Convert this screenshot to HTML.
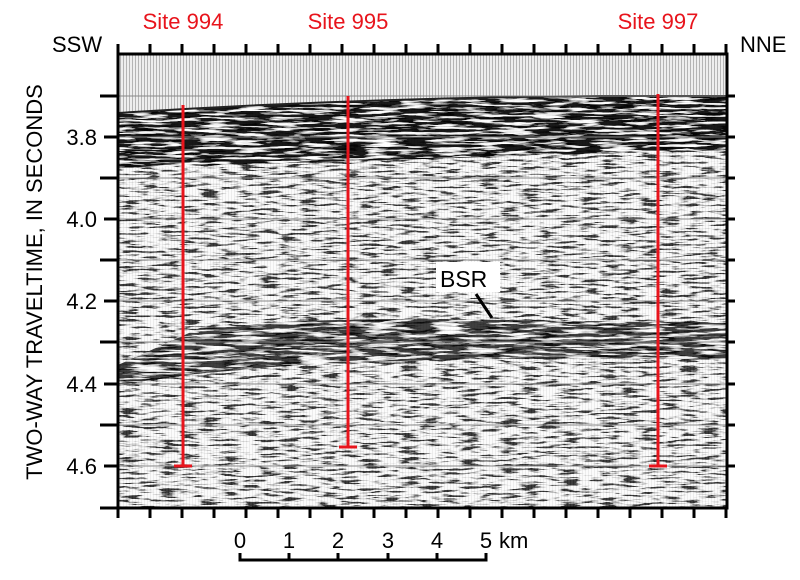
<!DOCTYPE html>
<html><head><meta charset="utf-8"><style>
html,body{margin:0;padding:0;background:#fff;}
svg{display:block;font-family:"Liberation Sans",Arial,sans-serif;}
</style></head><body>
<svg width="800" height="580" viewBox="0 0 800 580" xmlns="http://www.w3.org/2000/svg">
<defs>
<pattern id="vs" width="3" height="10" patternUnits="userSpaceOnUse">
<rect width="3" height="10" fill="#eeeeee"/><rect width="1" height="10" fill="#b4b4b4"/>
</pattern>
<filter id="nz" x="0" y="0" width="100%" height="100%">
<feTurbulence type="fractalNoise" baseFrequency="0.05 0.45" numOctaves="3" seed="4"/>
<feColorMatrix type="matrix" values="7 0 0 0 -2.6  7 0 0 0 -2.6  7 0 0 0 -2.6  0 0 0 0 1"/>
</filter>
<filter id="nz2" x="0" y="0" width="100%" height="100%">
<feTurbulence type="fractalNoise" baseFrequency="0.03 0.4" numOctaves="3" seed="9"/>
<feColorMatrix type="matrix" values="7 0 0 0 -3.5  7 0 0 0 -3.5  7 0 0 0 -3.5  0 0 0 0 1"/>
</filter>
<clipPath id="below"><path d="M118 113 Q350 98 600 96 L727 96 L727 508 L118 508 Z"/></clipPath>
<clipPath id="band1"><path d="M118 113 Q350 98 600 96 L727 96 L727 150 Q450 158 118 168 Z"/></clipPath>
<clipPath id="band2"><path d="M200 328 Q300 318 450 319 Q600 322 727 322 L727 360 Q500 355 300 365 Q200 372 118 385 L118 365 Z"/></clipPath>
</defs>
<rect x="118" y="54" width="609" height="454" fill="url(#vs)"/>
<g clip-path="url(#below)">
<rect x="118" y="54" width="609" height="454" filter="url(#nz)" opacity="0.75" style="mix-blend-mode:multiply"/>
</g>
<g clip-path="url(#band1)">
<rect x="118" y="54" width="609" height="454" filter="url(#nz2)" opacity="0.9" style="mix-blend-mode:multiply"/>
</g>
<g clip-path="url(#band2)">
<rect x="118" y="54" width="609" height="454" filter="url(#nz2)" opacity="0.75" style="mix-blend-mode:multiply"/>
</g>
<path d="M118 113 Q350 98 600 96 L727 96" stroke="#222" stroke-width="2" fill="none"/>
<g stroke="#888" stroke-width="1">
<line x1="118" y1="96" x2="727" y2="96"/><line x1="118" y1="137" x2="727" y2="137"/>
<line x1="118" y1="178" x2="727" y2="178"/><line x1="118" y1="219" x2="727" y2="219"/>
<line x1="118" y1="260" x2="727" y2="260"/><line x1="118" y1="301" x2="727" y2="301"/>
<line x1="118" y1="342" x2="727" y2="342"/><line x1="118" y1="384" x2="727" y2="384"/>
<line x1="118" y1="425" x2="727" y2="425"/><line x1="118" y1="466" x2="727" y2="466"/>
</g>
<rect x="118" y="54" width="609" height="454" fill="none" stroke="#000" stroke-width="3"/>
<g stroke="#000" stroke-width="3">
<line x1="118" y1="54" x2="118" y2="44"/><line x1="150" y1="54" x2="150" y2="44"/><line x1="182" y1="54" x2="182" y2="44"/><line x1="214" y1="54" x2="214" y2="44"/><line x1="246" y1="54" x2="246" y2="44"/><line x1="278" y1="54" x2="278" y2="44"/><line x1="310" y1="54" x2="310" y2="44"/><line x1="342" y1="54" x2="342" y2="44"/><line x1="374" y1="54" x2="374" y2="44"/><line x1="406" y1="54" x2="406" y2="44"/><line x1="438" y1="54" x2="438" y2="44"/><line x1="470" y1="54" x2="470" y2="44"/><line x1="502" y1="54" x2="502" y2="44"/><line x1="534" y1="54" x2="534" y2="44"/><line x1="566" y1="54" x2="566" y2="44"/><line x1="598" y1="54" x2="598" y2="44"/><line x1="630" y1="54" x2="630" y2="44"/><line x1="662" y1="54" x2="662" y2="44"/><line x1="694" y1="54" x2="694" y2="44"/><line x1="726" y1="54" x2="726" y2="44"/>
<line x1="118" y1="508" x2="118" y2="518"/><line x1="150" y1="508" x2="150" y2="518"/><line x1="182" y1="508" x2="182" y2="518"/><line x1="214" y1="508" x2="214" y2="518"/><line x1="246" y1="508" x2="246" y2="518"/><line x1="278" y1="508" x2="278" y2="518"/><line x1="310" y1="508" x2="310" y2="518"/><line x1="342" y1="508" x2="342" y2="518"/><line x1="374" y1="508" x2="374" y2="518"/><line x1="406" y1="508" x2="406" y2="518"/><line x1="438" y1="508" x2="438" y2="518"/><line x1="470" y1="508" x2="470" y2="518"/><line x1="502" y1="508" x2="502" y2="518"/><line x1="534" y1="508" x2="534" y2="518"/><line x1="566" y1="508" x2="566" y2="518"/><line x1="598" y1="508" x2="598" y2="518"/><line x1="630" y1="508" x2="630" y2="518"/><line x1="662" y1="508" x2="662" y2="518"/><line x1="694" y1="508" x2="694" y2="518"/><line x1="726" y1="508" x2="726" y2="518"/>
<line x1="100" y1="96" x2="118" y2="96"/><line x1="104" y1="137" x2="118" y2="137"/><line x1="100" y1="178" x2="118" y2="178"/><line x1="104" y1="219" x2="118" y2="219"/><line x1="100" y1="260" x2="118" y2="260"/><line x1="104" y1="301" x2="118" y2="301"/><line x1="100" y1="342" x2="118" y2="342"/><line x1="104" y1="384" x2="118" y2="384"/><line x1="100" y1="425" x2="118" y2="425"/><line x1="104" y1="466" x2="118" y2="466"/><line x1="100" y1="508" x2="118" y2="508"/>
<line x1="727" y1="96" x2="735" y2="96"/><line x1="727" y1="137" x2="735" y2="137"/><line x1="727" y1="178" x2="735" y2="178"/><line x1="727" y1="219" x2="735" y2="219"/><line x1="727" y1="260" x2="735" y2="260"/><line x1="727" y1="301" x2="735" y2="301"/><line x1="727" y1="342" x2="735" y2="342"/><line x1="727" y1="384" x2="735" y2="384"/><line x1="727" y1="425" x2="735" y2="425"/><line x1="727" y1="466" x2="735" y2="466"/>
</g>
<g font-size="22" fill="#000" text-anchor="end">
<text x="97" y="145">3.8</text><text x="97" y="227">4.0</text><text x="97" y="309">4.2</text><text x="97" y="392">4.4</text><text x="97" y="474">4.6</text>
</g>
<text x="52" y="52" font-size="22">SSW</text>
<text x="740" y="52" font-size="22">NNE</text>
<text transform="translate(42,282) rotate(-90)" text-anchor="middle" font-size="22">TWO-WAY TRAVELTIME, IN SECONDS</text>
<g fill="#e8141c" font-size="22" text-anchor="middle">
<text x="183" y="29">Site 994</text><text x="348" y="29">Site 995</text><text x="658" y="29">Site 997</text>
</g>
<g stroke="#e8141c" stroke-width="3">
<line x1="183" y1="105" x2="183" y2="466"/><line x1="174" y1="466" x2="192" y2="466"/>
<line x1="348" y1="96" x2="348" y2="447"/><line x1="339" y1="447" x2="357" y2="447"/>
<line x1="658" y1="94" x2="658" y2="466"/><line x1="649" y1="466" x2="667" y2="466"/>
</g>
<rect x="436" y="262" width="64" height="30" fill="#fff"/>
<text x="440" y="287" font-size="23">BSR</text>
<line x1="476" y1="294" x2="492" y2="318" stroke="#000" stroke-width="3"/>
<g font-size="22" text-anchor="middle">
<text x="240" y="548">0</text><text x="289" y="548">1</text><text x="338" y="548">2</text><text x="388" y="548">3</text><text x="437" y="548">4</text><text x="486" y="548">5</text>
</g>
<text x="499" y="548" font-size="22">km</text>
<path d="M240 553 V560 H486 V553 M289 553 V560 M338 553 V560 M388 553 V560 M437 553 V560" stroke="#000" stroke-width="3" fill="none"/>
</svg>
</body></html>
